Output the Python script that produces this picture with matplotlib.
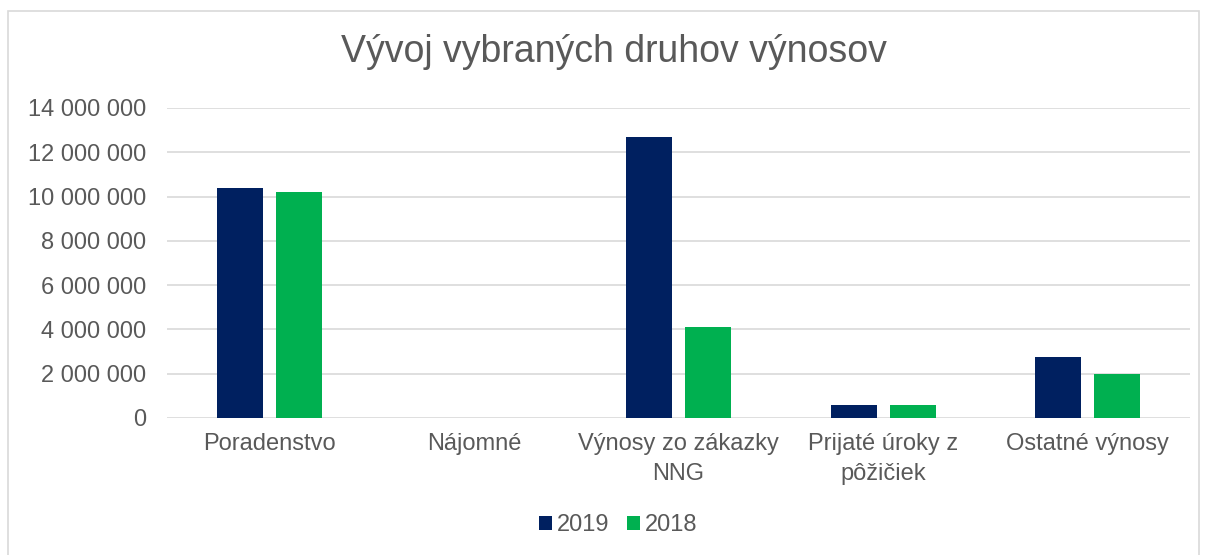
import numpy as np
import matplotlib.pyplot as plt
from matplotlib.patches import Rectangle
from matplotlib.ticker import FuncFormatter

plt.rcParams['font.family'] = ['Liberation Sans', 'DejaVu Sans']

categories = ["Poradenstvo", "Nájomné", "Výnosy zo zákazky\nNNG", "Prijaté úroky z\npôžičiek", "Ostatné výnosy"]
values_2019 = [10390000, 0, 12690000, 590000, 2760000]
values_2018 = [10200000, 0, 4110000, 590000, 1970000]

fig = plt.figure(figsize=(12.08, 5.55), dpi=100)
fig.patches.append(Rectangle((8 / 1208, -0.01), 1191 / 1208, 1 - 11 / 555 + 0.01, transform=fig.transFigure,
                             fill=False, edgecolor='#d9d9d9', linewidth=1.2))

ax = fig.add_axes([167 / 1208, 1 - 418 / 555, (1190 - 167) / 1208, 310 / 555])

x = np.arange(len(categories))
w = 0.225
gap = 0.064
ax.bar(x - (w + gap) / 2, values_2019, w, color='#002060', label='2019', zorder=3)
ax.bar(x + (w + gap) / 2, values_2018, w, color='#00B050', label='2018', zorder=3)

ax.set_xlim(-0.5, len(categories) - 0.5)
ax.set_ylim(0, 14000000)
ax.set_yticks(np.arange(0, 14000001, 2000000))
ax.yaxis.set_major_formatter(FuncFormatter(lambda v, p: f"{int(v):,}".replace(",", " ")))
ax.grid(axis='y', color='#d9d9d9', linewidth=1.2, zorder=0)
for s in ax.spines.values():
    s.set_visible(False)
ax.tick_params(axis='both', length=0, labelsize=17, colors='#595959')
ax.tick_params(axis='y', pad=15)
ax.set_xticks(x)
ax.set_xticklabels(categories, linespacing=1.45)
ax.tick_params(axis='x', pad=11)

fig.text(614 / 1208, 1 - 52 / 555, "Vývoj vybraných druhov výnosov", ha='center', va='center',
         fontsize=27, color='#595959')

fig.legend(loc='center', bbox_to_anchor=(618 / 1208, 1 - 525 / 555), ncol=2, frameon=False,
           fontsize=17, labelcolor='#595959', handlelength=0.55, handleheight=0.55,
           handletextpad=0.2, columnspacing=0.75)

fig.savefig("out.png", dpi=100)
